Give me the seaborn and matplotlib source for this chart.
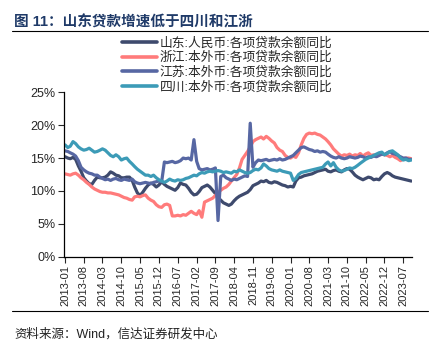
import numpy as np
import pandas as pd
import seaborn as sns
import matplotlib.pyplot as plt
import matplotlib.dates as mdates
from matplotlib.ticker import FuncFormatter
from matplotlib.lines import Line2D

# monthly data, 2013-01 .. 2023-10 (%)
months = pd.date_range('2013-01-01', periods=130, freq='MS')

shandong = [
    15.2, 15.0, 14.9, 15.1, 14.8, 13.8, 13.0, 12.0, 11.5, 11.1, 11.0, 11.6,
    12.1, 12.0, 12.0, 12.1, 12.4, 12.9, 12.7, 12.4, 12.3, 12.0, 12.0, 12.1,
    12.1, 11.6, 10.6, 9.7, 9.3, 9.8, 10.4, 10.9, 11.2, 11.0, 10.6, 10.9,
    11.4, 11.0, 10.7, 10.5, 10.3, 10.1, 10.5, 11.2, 11.0, 10.9, 10.4, 9.8,
    9.4, 9.5, 9.9, 10.5, 10.7, 10.9, 10.6, 10.1, 9.6, 9.0, 8.6, 8.2,
    8.0, 7.8, 8.0, 8.5, 8.9, 9.2, 9.4, 9.6, 9.8, 10.2, 10.8, 11.0,
    11.2, 11.5, 11.4, 11.6, 11.3, 11.2, 11.4, 11.3, 11.1, 10.9, 10.8, 10.6,
    10.7, 10.6, 11.5, 12.0, 12.1, 12.3, 12.4, 12.5, 12.6, 12.8, 13.0, 13.1,
    13.2, 13.3, 13.0, 12.9, 13.1, 13.2, 13.0, 12.9, 13.2, 13.4, 13.3, 12.9,
    12.4, 12.1, 11.9, 11.7, 11.9, 12.1, 12.0, 11.7, 11.8, 11.7, 12.2, 12.6,
    12.8, 12.6, 12.3, 12.1, 12.0, 11.9, 11.8, 11.7, 11.6, 11.5,
]
zhejiang = [
    12.6, 12.5, 12.4, 12.6, 12.7, 12.4, 12.0, 11.7, 11.3, 11.0, 10.6, 10.3,
    10.1, 9.9, 9.8, 9.8, 9.7, 9.7, 9.6, 9.5, 9.4, 9.2, 9.0, 8.9,
    8.7, 8.6, 9.1, 9.2, 9.1, 9.3, 9.4, 8.9, 8.6, 8.4, 7.9, 7.6,
    7.5, 7.9, 8.0, 7.8, 6.2, 6.2, 6.3, 6.2, 6.4, 6.3, 6.6, 6.9,
    6.6, 6.4, 7.0, 6.0, 8.3, 8.5, 8.7, 8.9, 9.3, 9.8, 10.1, 10.4,
    10.6, 11.0, 11.5, 12.0, 12.5, 13.5, 14.8, 15.4, 16.0, 16.7, 17.5, 17.8,
    18.0, 18.2, 17.9, 18.3, 18.0, 17.6, 17.3, 16.6, 16.2, 16.0, 15.4, 15.1,
    15.0, 15.3, 15.1, 15.8, 17.0, 18.0, 18.6, 18.8, 18.7, 18.8, 18.6, 18.5,
    18.2, 17.9, 17.5, 17.0, 16.4, 16.0, 15.6, 15.3, 15.5, 15.4, 15.6, 15.3,
    15.5, 15.4, 15.7, 15.3, 15.6, 15.8, 15.4, 15.5, 15.3, 15.6, 15.7, 15.5,
    15.4, 15.2, 15.4, 15.1, 14.9, 14.6, 14.9, 15.0, 15.0, 14.9,
]
jiangsu = [
    16.1, 16.0, 15.8, 15.6, 15.3, 14.6, 13.6, 13.2, 12.9, 12.7, 12.6, 12.4,
    12.4, 12.1, 11.9, 11.7, 11.8, 11.6, 11.8, 11.9, 11.7, 11.6, 11.8, 11.7,
    11.6, 11.8, 11.4, 11.2, 11.1, 11.2, 11.3, 11.2, 11.1, 11.3, 11.4, 11.5,
    11.4, 14.4, 14.3, 14.4, 14.5, 14.3, 14.4, 14.6, 15.0, 14.9, 15.0, 14.7,
    17.8, 14.5, 13.4, 13.2, 13.3, 13.4, 13.2, 13.3, 13.5, 5.5, 12.2, 12.4,
    12.0, 11.8, 11.6, 11.8, 11.7, 11.9, 12.1, 12.3, 12.2, 20.3, 13.6, 14.3,
    14.7, 14.6, 14.7, 14.8, 14.6, 14.7, 14.8, 14.7, 14.9, 14.7, 14.8, 15.0,
    15.2, 15.4, 15.8, 16.2, 16.6, 16.7, 16.5, 16.3, 16.2, 16.0, 16.1, 15.9,
    16.0, 15.9, 15.6, 15.3, 15.1, 15.0, 15.2, 15.0, 14.9, 15.0, 15.2, 15.1,
    15.0, 15.1, 15.3, 15.2, 15.0, 15.2, 15.1, 15.3, 15.2, 15.4, 15.6, 15.5,
    15.8, 16.0, 15.7, 15.6, 15.4, 15.2, 15.0, 15.0, 14.8, 14.8,
]
sichuan = [
    17.0, 16.6, 16.8, 17.5, 17.2, 16.7, 16.4, 16.2, 16.3, 16.5, 16.2, 15.9,
    16.0, 16.2, 16.4, 16.2, 15.8, 15.4, 15.2, 15.5, 15.2, 14.7, 14.9, 15.0,
    14.5, 14.1, 13.7, 13.3, 13.0, 12.7, 12.4, 12.4, 12.2, 12.4, 12.0, 11.7,
    11.5, 11.3, 11.5, 11.8, 11.6, 11.5, 11.7, 11.6, 11.7, 11.9, 12.0, 12.2,
    12.4, 12.3, 12.6, 12.8, 12.7, 12.9, 13.0, 12.9, 13.0, 13.1, 13.0, 12.8,
    12.9, 12.8, 12.7, 13.0, 12.9, 13.2, 13.0, 12.8, 12.7, 12.8, 13.1, 13.3,
    13.2, 13.5, 14.1, 13.8, 13.4, 13.2, 13.1, 13.0, 13.2, 13.0, 12.9, 12.8,
    12.7, 11.6, 11.9, 12.5, 12.8, 12.9, 13.0, 13.1, 13.2, 13.3, 13.4, 13.5,
    13.6, 14.1, 14.4, 13.8, 14.3, 13.6, 13.2, 13.0, 13.1, 13.3, 13.5, 13.4,
    13.6, 13.9, 14.2, 14.5, 14.8, 15.0, 15.2, 15.4, 15.6, 15.8, 15.9, 15.5,
    15.7, 16.0, 16.1, 15.8, 15.5, 15.0, 14.7, 14.8, 14.6, 14.7,
]

labels = ['山东:人民币:各项贷款余额同比', '浙江:本外币:各项贷款余额同比',
          '江苏:本外币:各项贷款余额同比', '四川:本外币:各项贷款余额同比']
colors = ['#3E4A6D', '#FF7B7B', '#5767A3', '#3C9BB7']

df = pd.concat([
    pd.DataFrame({'month': months, 'value': vals, 'series': lab})
    for lab, vals in zip(labels, [shandong, zhejiang, jiangsu, sichuan])
], ignore_index=True)

sns.set_style('ticks')
plt.rcParams['font.family'] = ['Liberation Sans', 'Noto Sans CJK SC']
plt.rcParams['axes.unicode_minus'] = False

fig = plt.figure(figsize=(4.34, 3.54), dpi=100)
ax = fig.add_axes([64 / 434, 1 - 256.7 / 354, (412 - 64) / 434, (256.7 - 92.3) / 354])

sns.lineplot(data=df, x='month', y='value', hue='series', hue_order=labels,
             palette=dict(zip(labels, colors)), linewidth=2.3, ax=ax, legend=False)

ax.set_ylim(0, 25)
ax.set_yticks([0, 5, 10, 15, 20, 25])
ax.yaxis.set_major_formatter(FuncFormatter(lambda v, p: f'{v:.0f}%'))
x0 = mdates.date2num(months[0]) - 12
x1 = mdates.date2num(months[-1]) + 8
ax.set_xlim(x0, x1)
ax.set_xticks(months[::7])
ax.xaxis.set_major_formatter(mdates.DateFormatter('%Y-%m'))
ax.tick_params(axis='x', labelrotation=90, labelsize=8, length=4, width=0.8, pad=2)
ax.tick_params(axis='y', labelsize=9, length=4, width=0.8, pad=2)
ax.set_xlabel('')
ax.set_ylabel('')
sns.despine(ax=ax)
for s in ['left', 'bottom']:
    ax.spines[s].set_color('black')
    ax.spines[s].set_linewidth(0.9)

handles = [Line2D([], [], color=c, lw=2.6) for c in colors]
fig.legend(handles, labels, loc='upper left', bbox_to_anchor=(122 / 434, 1 - 37 / 354),
           frameon=False, fontsize=9.2, handlelength=2.7, handletextpad=0.25,
           labelspacing=0.18, borderpad=0, borderaxespad=0)

fig.text(14 / 434, 1 - 22 / 354, '图 11：山东贷款增速低于四川和江浙', fontsize=10.5,
         fontweight='bold', color='#1F3A68', va='center', ha='left')
fig.add_artist(Line2D([12 / 434, 428 / 434], [1 - 31 / 354, 1 - 31 / 354], color='black', lw=0.8))
fig.add_artist(Line2D([12 / 434, 428 / 434], [1 - 311 / 354, 1 - 311 / 354], color='black', lw=0.8))
fig.text(14 / 434, 1 - 334 / 354, '资料来源：Wind，信达证券研发中心', fontsize=9,
         color='#222222', va='center', ha='left')

fig.savefig('out.png', dpi=100)
